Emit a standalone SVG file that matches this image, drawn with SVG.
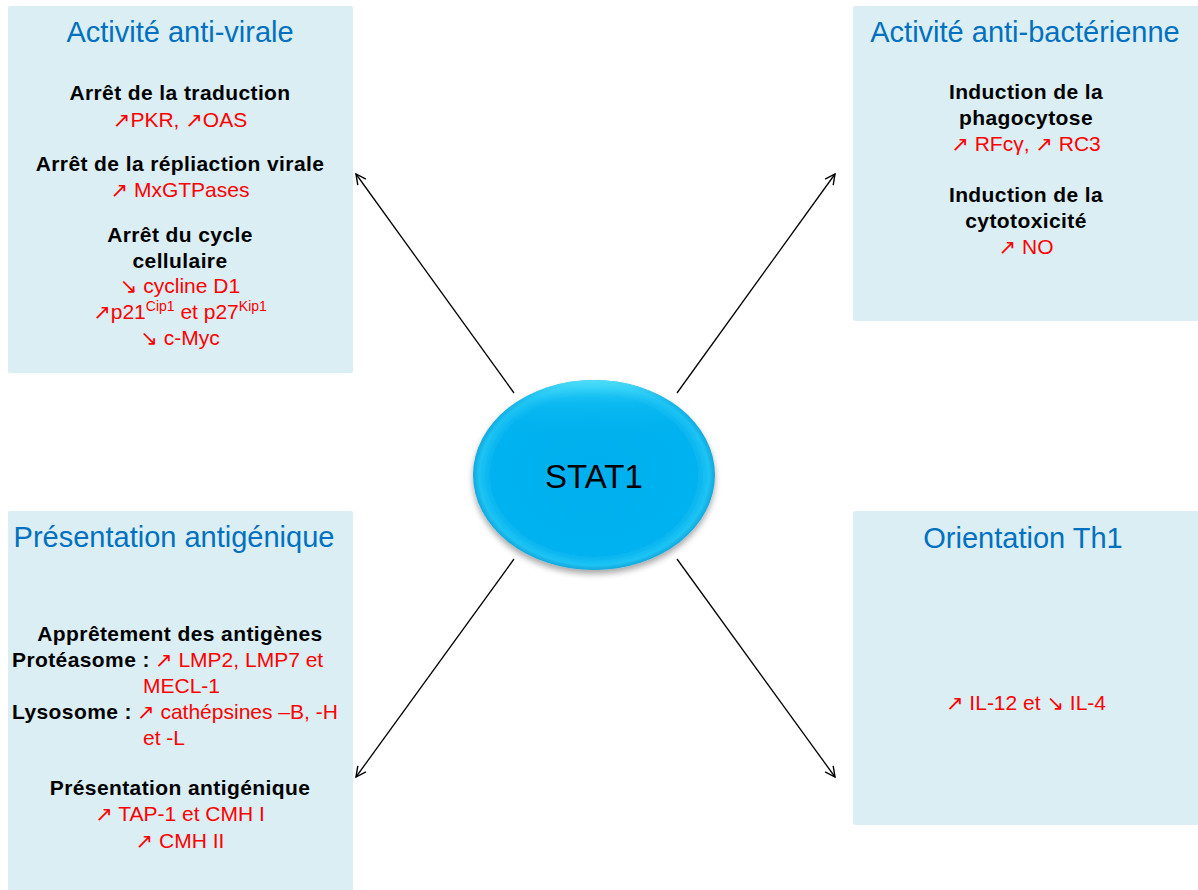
<svg xmlns="http://www.w3.org/2000/svg" width="1198" height="890" viewBox="0 0 1198 890">
<defs>
<style>
.box{fill:#daeef3;}
.title{font-family:"Liberation Sans","DejaVu Sans",sans-serif;font-size:29px;fill:#0070c0;text-anchor:middle;}
.b{font-family:"Liberation Sans","DejaVu Sans",sans-serif;font-size:21px;font-weight:bold;fill:#000;letter-spacing:0.4px;}
.r{font-family:"Liberation Sans","DejaVu Sans",sans-serif;font-size:21px;font-weight:normal;fill:#ff0000;letter-spacing:0;}
.mid{text-anchor:middle;}
.sup{font-size:14px;}
.conn{stroke:#000;stroke-width:1.3;fill:none;marker-end:url(#arr);}
</style>
<marker id="arr" viewBox="0 0 12 12" refX="11" refY="6" markerWidth="12" markerHeight="12" markerUnits="userSpaceOnUse" orient="auto">
<path d="M1,1 L11,6 L1,11" fill="none" stroke="#000" stroke-width="1.4"/>
</marker>
<radialGradient id="eg" cx="50%" cy="50%" r="50%">
<stop offset="0" stop-color="#00b0ee"/>
<stop offset="0.85" stop-color="#04b2ef"/>
<stop offset="0.95" stop-color="#1ec4f4"/>
<stop offset="1" stop-color="#12a6dc"/>
</radialGradient>
<linearGradient id="eh" x1="0" y1="0" x2="0" y2="1">
<stop offset="0" stop-color="#55e4fb" stop-opacity="0.9"/>
<stop offset="0.12" stop-color="#20c6f4" stop-opacity="0.4"/>
<stop offset="0.3" stop-color="#00b0f0" stop-opacity="0"/>
</linearGradient>
<filter id="sh" x="-20%" y="-20%" width="140%" height="150%">
<feGaussianBlur in="SourceAlpha" stdDeviation="3"/>
<feOffset dx="0" dy="4" result="o"/>
<feComponentTransfer><feFuncA type="linear" slope="0.35"/></feComponentTransfer>
<feMerge><feMergeNode/><feMergeNode in="SourceGraphic"/></feMerge>
</filter>
</defs>
<rect width="1198" height="890" fill="#ffffff"/>

<g id="connectors">
<line class="conn" x1="514" y1="393" x2="356" y2="174"/>
<line class="conn" x1="677" y1="393" x2="835" y2="174"/>
<line class="conn" x1="514" y1="559" x2="356" y2="777"/>
<line class="conn" x1="677" y1="559" x2="835" y2="777"/>
</g>

<g id="antiviral">
<rect class="box" x="8" y="6" width="345" height="367" rx="2"/>
<text class="title" x="180" y="42">Activité anti-virale</text>
<text class="b mid" x="180" y="100">Arrêt de la traduction</text>
<text class="r mid" x="180" y="127">↗PKR, ↗OAS</text>
<text class="b mid" x="180" y="171">Arrêt de la répliaction virale</text>
<text class="r mid" x="180" y="197">↗ MxGTPases</text>
<text class="b mid" x="180" y="242">Arrêt du cycle</text>
<text class="b mid" x="180" y="268">cellulaire</text>
<text class="r mid" x="180" y="293">↘ cycline D1</text>
<text class="r mid" x="180" y="319">↗p21<tspan class="sup" dy="-8">Cip1</tspan><tspan dy="8"> et p27</tspan><tspan class="sup" dy="-8">Kip1</tspan></text>
<text class="r mid" x="180" y="345">↘ c-Myc</text>
</g>

<g id="antibacterial">
<rect class="box" x="853" y="6" width="350" height="315" rx="2"/>
<text class="title" x="1025" y="42">Activité anti-bactérienne</text>
<text class="b mid" x="1026" y="99">Induction de la</text>
<text class="b mid" x="1026" y="125">phagocytose</text>
<text class="r mid" x="1026" y="151">↗ RFcγ, ↗ RC3</text>
<text class="b mid" x="1026" y="202">Induction de la</text>
<text class="b mid" x="1026" y="228">cytotoxicité</text>
<text class="r mid" x="1026" y="254">↗ NO</text>
</g>

<g id="presentation">
<rect class="box" x="8" y="511" width="345" height="390" rx="2"/>
<text class="title" x="174" y="547">Présentation antigénique</text>
<text class="b mid" x="180" y="641">Apprêtement des antigènes</text>
<text class="b" x="12" y="667">Protéasome : <tspan class="r" x="155">↗ LMP2, LMP7 et</tspan></text>
<text class="r" x="143" y="693">MECL-1</text>
<text class="b" x="12" y="719">Lysosome : <tspan class="r" x="137">↗ cathépsines –B, -H</tspan></text>
<text class="r" x="143" y="745">et -L</text>
<text class="b mid" x="180" y="795">Présentation antigénique</text>
<text class="r mid" x="180" y="821">↗ TAP-1 et CMH I</text>
<text class="r mid" x="180" y="848">↗ CMH II</text>
</g>

<g id="th1">
<rect class="box" x="853" y="511" width="350" height="314" rx="2"/>
<text class="title" x="1023" y="548">Orientation Th1</text>
<text class="r mid" x="1026" y="710">↗ IL-12 et ↘ IL-4</text>
</g>

<g id="stat1">
<ellipse cx="594" cy="475" rx="121" ry="95" fill="url(#eg)" filter="url(#sh)"/>
<ellipse cx="594" cy="475" rx="121" ry="95" fill="url(#eh)"/>
<text x="594" y="488" text-anchor="middle" font-family="'Liberation Sans','DejaVu Sans',sans-serif" font-size="33" fill="#000">STAT1</text>
</g>
</svg>
